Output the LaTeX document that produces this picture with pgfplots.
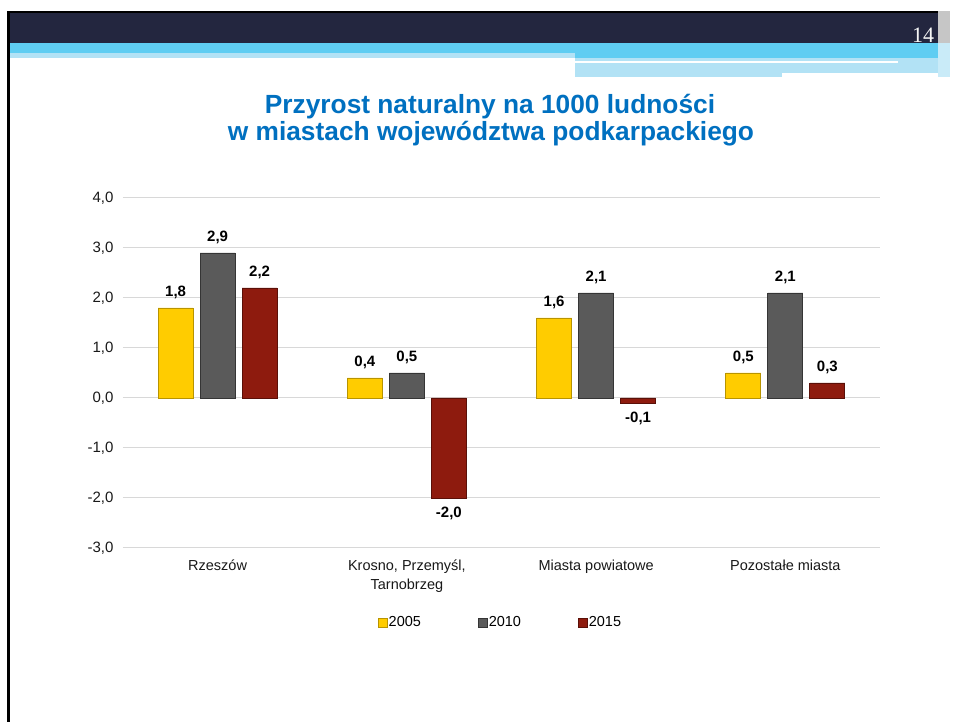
\documentclass[border=0pt]{standalone}
\usepackage{fontspec}
\setmainfont{Liberation Sans}
\newfontfamily\seriffont{Liberation Serif}
\usepackage{pgfplots}
\usepackage{pgfplotstable}
\pgfplotsset{compat=1.18}
\definecolor{navy}{HTML}{23263F}
\definecolor{lblue}{HTML}{5FCDF2}
\definecolor{pale}{HTML}{B2E2F5}
\definecolor{titleblue}{HTML}{0070C0}
\definecolor{cyel}{HTML}{FFCC00}
\definecolor{cyeld}{HTML}{B89400}
\definecolor{cgray}{HTML}{5A5A5A}
\definecolor{cgrayd}{HTML}{353535}
\definecolor{cred}{HTML}{8E1B0E}
\definecolor{credd}{HTML}{5A1008}
\definecolor{gridc}{HTML}{D8D8D8}

\pgfplotstableread{
x y05 y10 y15
0 1.8 2.9 2.2
1 0.4 0.5 -2.0
2 1.6 2.1 -0.1
3 0.5 2.1 0.3
}\data

\begin{document}
\begin{tikzpicture}[x=1pt,y=1pt]
\useasboundingbox (0,0) rectangle (954,722);
\fill[white] (0,0) rectangle (954,722);
% header
\fill[black] (7,709) rectangle (938,711);
\fill[navy] (7,679) rectangle (938,709);
\fill[lblue] (10,669) rectangle (938,679);
\fill[lblue] (575,664) rectangle (938,669);
\fill[pale] (10,664) rectangle (575,669);
\fill[pale] (575,645) rectangle (782,664);
\fill[pale] (782,649) rectangle (938,664);
\fill[white] (575,659) rectangle (898,661);
\fill[gray!45] (938,679) rectangle (950,711);
\fill[pale!70] (938,645) rectangle (950,679);
\fill[black] (7,0) rectangle (10,711);
\node[text=white!92!gray, font=\seriffont\fontsize{22}{24}\selectfont] at (923,687) {14};
% title
\node[text=titleblue, font=\bfseries\fontsize{26.3}{28}\selectfont] at (490,615) {Przyrost naturalny na 1000 ludności};
\node[text=titleblue, font=\bfseries\fontsize{26.3}{28}\selectfont] at (491,588) {w miastach województwa podkarpackiego};

\begin{axis}[
  at={(123pt,174pt)}, anchor=south west,
  scale only axis, width=757pt, height=350pt,
  ybar=7pt, bar width=35pt,
  xmin=-0.5, xmax=3.5, ymin=-3, ymax=4,
  ytick={-3,-2,-1,0,1,2,3,4},
  xtick={0,1,2,3},
  xticklabels={Rzeszów, {Krosno, Przemyśl,\\Tarnobrzeg}, Miasta powiatowe, Pozostałe miasta},
  xticklabel style={align=center, font=\fontsize{14.5}{19}\selectfont, text=black!90, yshift=-8pt},
  yticklabel style={font=\fontsize{15}{17}\selectfont, text=black!90, xshift=-6pt},
  /pgf/number format/.cd, fixed, fixed zerofill, precision=1, use comma, assume math mode=true,
  /pgfplots/.cd,
  ymajorgrids, grid style={gridc, line width=1pt},
  axis line style={draw=none},
  major tick length=0pt,
  nodes near coords,
  every node near coord/.append style={font=\bfseries\fontsize{15}{17}\selectfont, text=black, inner sep=8.5pt},
  legend style={at={(0.498,-0.213)}, anchor=center, draw=none, fill=none,
    font=\fontsize{14.5}{17}\selectfont, legend columns=3,
    /tikz/every even column/.append style={column sep=56pt},
    nodes={inner sep=1pt}},
  legend image code/.code={\draw[#1] (0pt,-4.5pt) rectangle (9pt,4.5pt);},
]
\addplot[fill=cyel, draw=cyeld, line width=0.8pt] table[x=x, y=y05] {\data};
\addplot[fill=cgray, draw=cgrayd, line width=0.8pt] table[x=x, y=y10] {\data};
\addplot[fill=cred, draw=credd, line width=0.8pt] table[x=x, y=y15] {\data};
\legend{2005,2010,2015}
\end{axis}
\end{tikzpicture}
\end{document}
